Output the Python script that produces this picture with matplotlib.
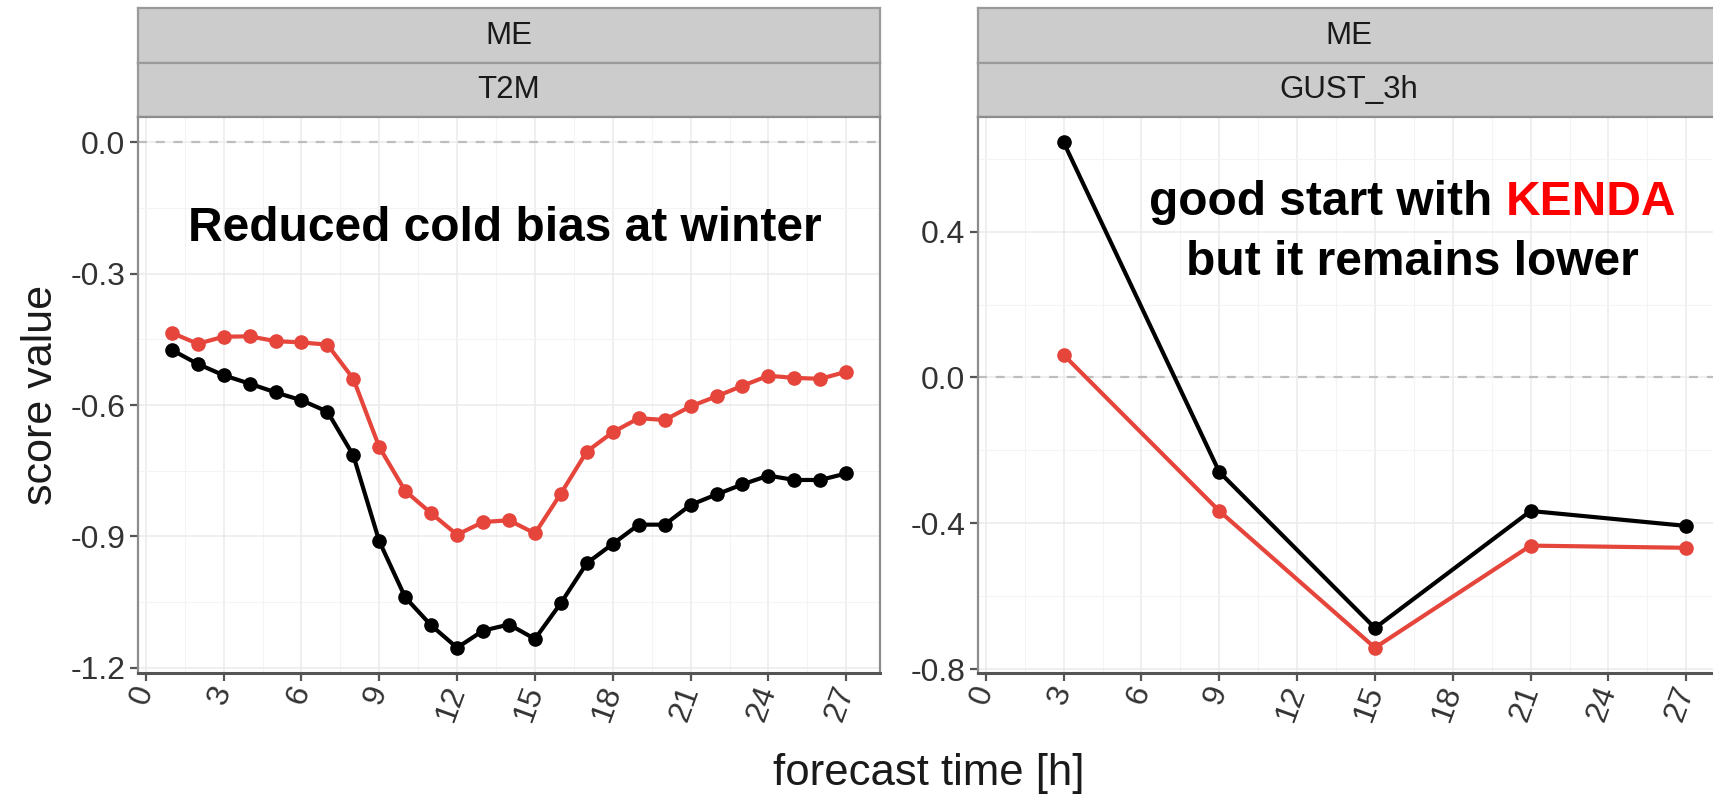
import matplotlib
matplotlib.use("Agg")
import matplotlib.pyplot as plt
from matplotlib.ticker import FixedLocator

plt.rcParams['font.family'] = ['Liberation Sans', 'DejaVu Sans']

# ---- data -------------------------------------------------------------
lead_t2m = list(range(1, 28))
t2m_ref = [-0.474, -0.506, -0.532, -0.551, -0.571, -0.589, -0.615, -0.715,
           -0.911, -1.039, -1.103, -1.154, -1.115, -1.101, -1.134, -1.052,
           -0.961, -0.917, -0.873, -0.873, -0.828, -0.804, -0.781, -0.761,
           -0.771, -0.771, -0.756]
t2m_kenda = [-0.435, -0.460, -0.444, -0.443, -0.454, -0.457, -0.462, -0.540,
             -0.696, -0.796, -0.847, -0.896, -0.867, -0.863, -0.893, -0.802,
             -0.706, -0.662, -0.630, -0.634, -0.603, -0.580, -0.556, -0.533,
             -0.538, -0.540, -0.524]

lead_gust = [3, 9, 15, 21, 27]
gust_ref = [0.645, -0.259, -0.687, -0.366, -0.407]
gust_kenda = [0.062, -0.366, -0.741, -0.461, -0.467]

score_name = "ME"
var_names = ["T2M", "GUST_3h"]
x_ticks = list(range(0, 28, 3))
y_ticks_t2m = [0.0, -0.3, -0.6, -0.9, -1.2]
y_ticks_gust = [0.4, 0.0, -0.4, -0.8]

COL_REF = "#000000"
COL_KENDA = "#E5453B"

# ---- layout (pixel boxes) ---------------------------------------------
W, H = 1713, 795
fig = plt.figure(figsize=(W / 100, H / 100), dpi=100)


def box(x0, y0, x1, y1):
    return [x0 / W, 1 - y1 / H, (x1 - x0) / W, (y1 - y0) / H]


panels = [(138, 880), (978, 1720)]
strip_top, strip_mid, panel_top, panel_bot = 8, 63, 117, 673


def expand(lo, hi, frac=0.05):
    r = hi - lo
    return lo - frac * r, hi + frac * r


xs_all = lead_t2m + lead_gust
xlim = expand(min(xs_all), max(xs_all))

datasets = [
    (lead_t2m, t2m_ref, t2m_kenda, y_ticks_t2m),
    (lead_gust, gust_ref, gust_kenda, y_ticks_gust),
]

axes = []
for (px0, px1), var, (xv, yr, yk, yt) in zip(panels, var_names, datasets):
    # facet strips
    for (sy0, sy1), label in (((strip_top, strip_mid), score_name),
                              ((strip_mid, panel_top), var)):
        sax = fig.add_axes(box(px0, sy0, px1, sy1))
        sax.set_facecolor("#CCCCCC")
        sax.set_xticks([])
        sax.set_yticks([])
        for s in sax.spines.values():
            s.set_color("#9A9A9A")
            s.set_linewidth(1.6)
        sax.text(0.5, 0.5, label, ha="center", va="center",
                 fontsize=22.5, color="#1A1A1A", transform=sax.transAxes)

    ax = fig.add_axes(box(px0, panel_top, px1, panel_bot))
    axes.append(ax)
    ylim = expand(min(yr + yk + [0.0]), max(yr + yk + [0.0]))
    ax.set_xlim(*xlim)
    ax.set_ylim(*ylim)

    ax.xaxis.set_major_locator(FixedLocator(x_ticks))
    ax.xaxis.set_minor_locator(FixedLocator([t + 1.5 for t in x_ticks[:-1]]))
    ax.yaxis.set_major_locator(FixedLocator(yt))
    step = abs(yt[1] - yt[0])
    ax.yaxis.set_minor_locator(FixedLocator([t - step / 2 for t in yt] + [yt[0] + step / 2]))

    ax.grid(which="major", color="#EBEBEB", linewidth=1.1)
    ax.grid(which="minor", color="#F4F4F4", linewidth=0.8)
    ax.set_axisbelow(True)

    ax.axhline(0.0, color="#BDBDBD", linestyle=(0, (4, 4)), linewidth=1.6, zorder=1)

    ax.plot(xv, yr, color=COL_REF, linewidth=3.0, marker="o", markersize=9.5, zorder=3)
    ax.plot(xv, yk, color=COL_KENDA, linewidth=3.0, marker="o", markersize=9.5, zorder=3)

    ax.set_yticklabels([f"{v:.1f}" for v in yt])
    ax.set_xticklabels([str(v) for v in x_ticks])
    ax.tick_params(axis="both", which="major", labelsize=23, labelcolor="#333333",
                   color="#555555", length=6, width=1.6)
    ax.tick_params(axis="both", which="minor", length=0)
    ax.tick_params(axis="y", pad=3)
    ax.tick_params(axis="x", pad=4)
    for lab in ax.get_xticklabels():
        lab.set_rotation(70)
        lab.set_ha("right")
        lab.set_va("center")
        lab.set_rotation_mode("anchor")

    for side, s in ax.spines.items():
        s.set_color("#8C8C8C")
        s.set_linewidth(1.6)
    ax.spines["bottom"].set_color("#555555")
    ax.spines["bottom"].set_linewidth(2.2)

axes[0].set_ylabel("score value", fontsize=31, color="#1A1A1A", labelpad=7)
fig.text(929 / W, 1 - 773 / H, "forecast time [h]", ha="center", va="center",
         fontsize=31.5, color="#1A1A1A")

# ---- annotations -------------------------------------------------------
axes[0].text(0.495, 0.80, "Reduced cold bias at winter", transform=axes[0].transAxes,
             ha="center", va="center", fontsize=34.5, fontweight="bold", color="black",
             zorder=5)

ax_r = axes[1]
part1 = ax_r.text(0, 0, "good start with ", transform=ax_r.transAxes,
                  ha="left", va="center", fontsize=34.5, fontweight="bold", color="black")
part2 = ax_r.text(0, 0, "KENDA", transform=ax_r.transAxes,
                  ha="left", va="center", fontsize=34.5, fontweight="bold", color="#FF0000")
fig.canvas.draw()
r = fig.canvas.get_renderer()
w1 = part1.get_window_extent(r).width
w2 = part2.get_window_extent(r).width
ax_w = ax_r.get_window_extent(r).width
cx, cy = 0.586, 0.847
start = cx - (w1 + w2) / 2 / ax_w
part1.set_position((start, cy))
part2.set_position((start + w1 / ax_w, cy))
ax_r.text(0.586, 0.739, "but it remains lower", transform=ax_r.transAxes,
          ha="center", va="center", fontsize=34.5, fontweight="bold", color="black")

fig.savefig("out.png", dpi=100)
